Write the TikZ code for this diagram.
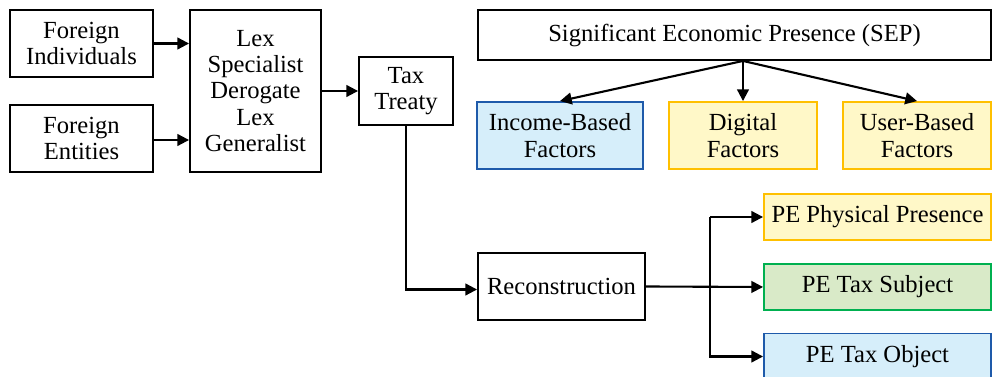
\documentclass[tikz,border=0pt]{standalone}
\usepackage{fontspec}
\setmainfont{Liberation Serif}
\usetikzlibrary{arrows.meta,positioning,calc}
\definecolor{boxblue}{RGB}{30,90,170}
\definecolor{fillblue}{RGB}{214,238,250}
\definecolor{boxgold}{RGB}{255,192,0}
\definecolor{fillgold}{RGB}{255,248,200}
\definecolor{boxgreen}{RGB}{0,176,80}
\definecolor{fillgreen}{RGB}{217,234,200}

\begin{document}
\begin{tikzpicture}[x=0.03cm, y=-0.03cm,
    box/.style={draw, line width=1.6pt, fill=white, align=center, inner sep=2pt,
      font=\fontsize{21}{22.5}\selectfont},
    bluebox/.style={box, draw=boxblue, fill=fillblue},
    goldbox/.style={box, draw=boxgold, fill=fillgold},
    greenbox/.style={box, draw=boxgreen, fill=fillgreen},
    arr/.style={-{Triangle[length=10pt,width=10pt]}, line width=1.8pt}]
  \useasboundingbox (0,0) rectangle (994,377);

  % left part
  \node[box, minimum width=143*0.03cm, minimum height=67*0.03cm] (indiv) at (81.5,43.5) {Foreign\\Individuals};
  \node[box, minimum width=143*0.03cm, minimum height=67*0.03cm] (entit) at (81.5,138.5) {Foreign\\Entities};
  \node[box, minimum width=131*0.03cm, minimum height=162*0.03cm] (lex) at (255.5,91) {Lex\\Specialist\\Derogate\\Lex\\Generalist};
  \node[box, minimum width=94*0.03cm, minimum height=68*0.03cm] (treaty) at (406,91) {Tax\\Treaty};

  \draw[arr] (indiv) -- (indiv -| lex.west);
  \draw[arr] (entit.east) ++(0,1.5) -- ($(entit.east -| lex.west)+(0,1.5)$);
  \draw[arr] (treaty -| lex.east) -- (treaty);

  % SEP
  \node[box, minimum width=513*0.03cm, minimum height=50*0.03cm] (sep) at (734.5,35) {Significant Economic Presence (SEP)};
  \node[bluebox, minimum width=166*0.03cm, minimum height=67*0.03cm] (income) at (560,135.5) {Income-Based\\Factors};
  \node[goldbox, minimum width=148*0.03cm, minimum height=67*0.03cm] (digital) at (743,135.5) {Digital\\Factors};
  \node[goldbox, minimum width=148*0.03cm, minimum height=67*0.03cm] (user) at (917,135.5) {User-Based\\Factors};

  \coordinate (split) at (sep.south -| digital.north);
  \draw[arr] (split) -- (income.north);
  \draw[arr] (split) -- (digital.north);
  \draw[arr] (split) -- (user.north);

  % PE reconstruction
  \node[box, minimum width=167*0.03cm, minimum height=67*0.03cm] (recon) at (561.5,286.5) {Reconstruction};
  \node[goldbox, minimum width=227*0.03cm, minimum height=46*0.03cm] (phys) at (877.5,217) {PE Physical Presence};
  \node[greenbox, minimum width=227*0.03cm, minimum height=46*0.03cm] (subj) at (877.5,287) {PE Tax Subject};
  \node[bluebox, minimum width=227*0.03cm, minimum height=46*0.03cm] (obj) at (877.5,356.5) {PE Tax Object};

  \draw[arr] (treaty.south) |- ($(recon.west)+(0,3)$);
  \coordinate (fork) at (710,287);
  \draw[arr] (recon.east) -- (subj.west);
  \draw[arr] (fork |- phys) -- (fork |- obj) -- (obj.west);
  \draw[arr] (fork |- phys) -- (phys.west);
\end{tikzpicture}
\end{document}
